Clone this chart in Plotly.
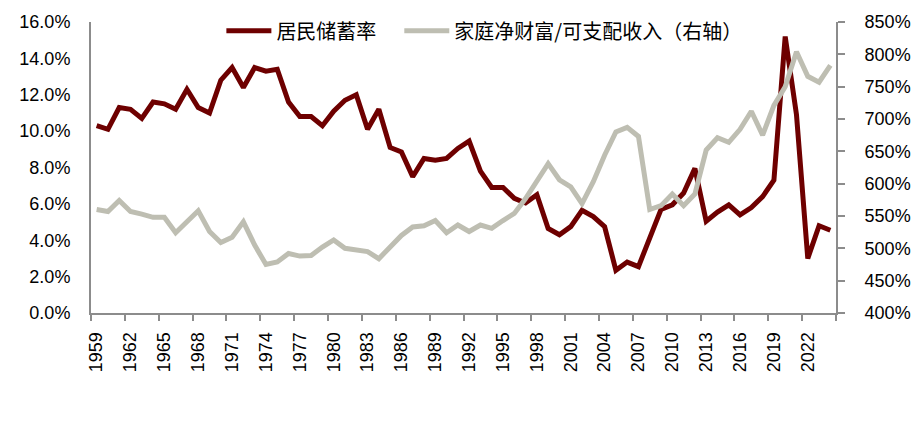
import plotly.graph_objects as go

years = [str(y) for y in range(1959, 2025)]

saving_rate = [
    10.3, 10.1, 11.3, 11.2, 10.7, 11.6, 11.5, 11.2, 12.3, 11.3,
    11.0, 12.8, 13.5, 12.4, 13.5, 13.3, 13.4, 11.6, 10.8, 10.8,
    10.3, 11.1, 11.7, 12.0, 10.1, 11.2, 9.1, 8.85, 7.5, 8.5,
    8.4, 8.5, 9.05, 9.45, 7.8, 6.9, 6.9, 6.3, 6.05, 6.5,
    4.65, 4.3, 4.75, 5.65, 5.3, 4.75, 2.35, 2.8, 2.55, 4.2,
    5.7, 5.95, 6.6, 7.95, 5.05, 5.55, 5.95, 5.4, 5.8, 6.4,
    7.3, 15.2, 10.9, 3.0, 4.8, 4.55,
]

wealth_income = [
    560, 557, 574, 557, 553, 548, 548, 524, 541, 558,
    526, 509, 517, 541, 505, 475, 479, 492, 488, 489,
    502, 513, 500, 498, 495, 484, 501, 520, 533, 535,
    543, 524, 536, 526, 536, 531, 543, 554, 577, 603,
    631, 606, 595, 569, 603, 644, 680, 687, 673, 560,
    566, 584, 566, 584, 652, 671, 664, 684, 712, 675,
    721, 750, 804, 766, 757, 783,
]

name_saving = "居民储蓄率\u00a0\u00a0\u00a0\u00a0"
name_wealth = "家庭净财富/可支配收入（右轴）"

RED = "#6E0000"
GREY = "#BEBEB2"
AXIS = "#8C8C8C"
TICK_FONT = dict(family="Liberation Sans, Arial, sans-serif", size=18, color="#000000")

fig = go.Figure()
fig.add_trace(go.Scatter(
    x=years, y=saving_rate, name=name_saving, mode="lines",
    line=dict(color=RED, width=5), yaxis="y",
))
fig.add_trace(go.Scatter(
    x=years, y=wealth_income, name=name_wealth, mode="lines",
    line=dict(color=GREY, width=5), yaxis="y2",
))

# page body has an 8px margin, so the figure is offset by 8px
fig.update_layout(
    width=913, height=417,
    margin=dict(l=83, r=85, t=14, b=112, autoexpand=False),
    paper_bgcolor="white", plot_bgcolor="white",
    showlegend=True,
    legend=dict(
        orientation="h", x=0.175, xanchor="left", y=0.97, yanchor="middle",
        font=dict(family="Noto Sans CJK SC", size=20, color="#000000"),
        bgcolor="rgba(0,0,0,0)", itemwidth=45, tracegroupgap=0,
    ),
    xaxis=dict(
        type="category", tickmode="linear", tick0=0, dtick=3,
        tickson="boundaries", ticks="outside", ticklen=6, tickcolor=AXIS, tickwidth=2,
        showline=True, linecolor=AXIS, linewidth=2,
        showgrid=False, zeroline=False, tickangle=-90, tickfont=TICK_FONT,
        range=[-0.5, 65.5], ticklabelstandoff=10,
    ),
    yaxis=dict(
        range=[0, 16], dtick=2, tickformat=".1f", ticksuffix="%",
        showline=True, linecolor=AXIS, linewidth=2, ticks="",
        showgrid=False, zeroline=False, tickfont=TICK_FONT,
        ticklabelstandoff=15,
    ),
    yaxis2=dict(
        range=[400, 850], dtick=50, ticksuffix="%", overlaying="y", side="right",
        showline=True, linecolor=AXIS, linewidth=2, ticks="outside", ticklen=7,
        tickcolor=AXIS, tickwidth=2,
        showgrid=False, zeroline=False, tickfont=TICK_FONT,
        ticklabelstandoff=16,
    ),
)

fig.write_html("out.html")
